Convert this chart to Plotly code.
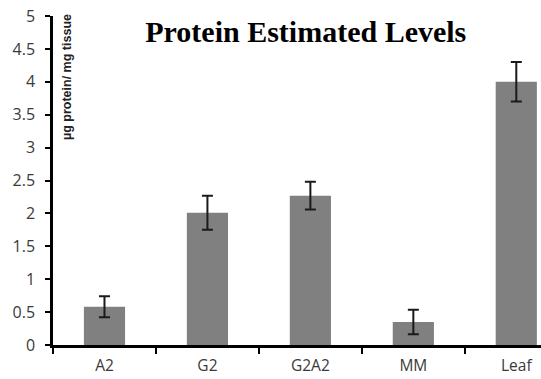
import plotly.graph_objects as go

categories = ["A2", "G2", "G2A2", "MM", "Leaf"]
values = [0.58, 2.01, 2.27, 0.35, 4.0]
errors = [0.16, 0.26, 0.21, 0.185, 0.30]
y_ticks = [0, 0.5, 1, 1.5, 2, 2.5, 3, 3.5, 4, 4.5, 5]
y_tick_labels = ["0", "0.5", "1", "1.5", "2", "2.5", "3", "3.5", "4", "4.5", "5"]

W, H = 541, 379

fig = go.Figure()
fig.add_trace(go.Bar(
    x=categories, y=values, width=0.4,
    marker=dict(color="#808080", line=dict(width=0)),
    error_y=dict(type="data", array=errors, visible=True,
                 color="#1a1a1a", thickness=2, width=5.5),
))

fig.update_layout(
    width=W, height=H,
    margin=dict(l=53, r=0, t=16, b=34),
    paper_bgcolor="white", plot_bgcolor="white",
    showlegend=False,
    title=dict(text="<b>Protein Estimated Levels</b>",
               font=dict(family="Liberation Serif", size=30, color="#000000"),
               xref="paper", x=0.518, xanchor="center",
               yref="container", y=1 - 31 / H, yanchor="middle"),
    font=dict(family="Open Sans", size=16, color="#3a3a3a"),
)
fig.update_xaxes(
    type="category", range=[-0.5, 4.24], automargin=False,
    showline=True, linecolor="#000000", linewidth=2.5,
    ticks="outside", tickson="boundaries", ticklen=6, tickwidth=2, tickcolor="#000000",
    showgrid=False, zeroline=False,
    tickfont=dict(family="Open Sans", size=15.5, color="#3a3a3a"),
    ticklabelstandoff=5,
)
fig.update_yaxes(
    range=[0, 5], tickvals=y_ticks, ticktext=y_tick_labels, automargin=False,
    showline=True, linecolor="#000000", linewidth=2.5,
    ticks="outside", ticklen=5, tickwidth=2, tickcolor="#000000",
    showgrid=False, zeroline=False,
    tickfont=dict(family="Open Sans", size=16, color="#3a3a3a"),
    ticklabelstandoff=7, ticklabeloverflow="allow",
)
fig.add_annotation(
    text="<b>µg protein/ mg tissue</b>", textangle=-90,
    xref="paper", x=0, xshift=14, xanchor="center",
    yref="paper", y=1, yshift=4, yanchor="top",
    showarrow=False,
    font=dict(family="Liberation Sans", size=12.5, color="#222222"),
)
fig.write_html("out.html",
               config={"displayModeBar": False},
               post_script="document.body.style.margin='0';document.body.style.overflow='hidden';")
